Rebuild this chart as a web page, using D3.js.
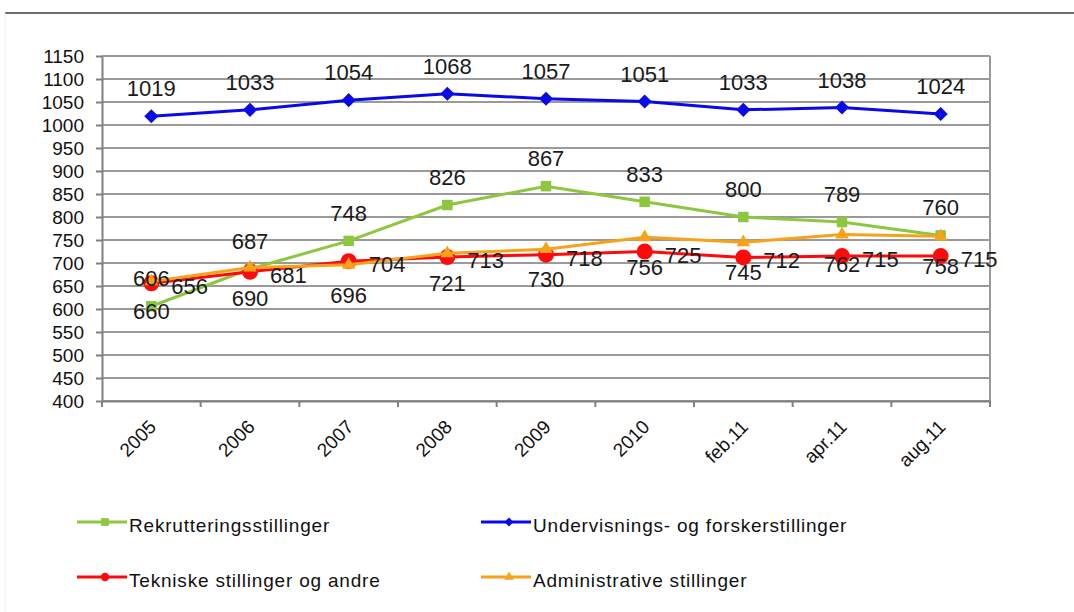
<!DOCTYPE html>
<html>
<head>
<meta charset="utf-8">
<script src="https://cdn.jsdelivr.net/npm/d3@7"></script>
<style>
  body { margin: 0; background: #fff; }
  svg { display: block; font-family: "Liberation Sans", Arial, sans-serif; }
</style>
</head>
<body>
<svg id="chart" width="1074" height="612"></svg>
<script>
// data
const categories = ["2005", "2006", "2007", "2008", "2009", "2010", "feb.11", "apr.11", "aug.11"]
const rekruttering = [606, 687, 748, 826, 867, 833, 800, 789, 760]
const undervisning = [1019, 1033, 1054, 1068, 1057, 1051, 1033, 1038, 1024]
const tekniske = [656, 681, 704, 713, 718, 725, 712, 715, 715]
const administrative = [660, 690, 696, 721, 730, 756, 745, 762, 758]
const yTicks = [400, 450, 500, 550, 600, 650, 700, 750, 800, 850, 900, 950, 1000, 1050, 1100, 1150]

// drawing order = excel series order
const series = [
    { name: "Rekrutteringsstillinger", values: rekruttering, color: "#8dc63f", symbol: "square", label: "above" },
    { name: "Undervisnings- og forskerstillinger", values: undervisning, color: "#0a0ae6", symbol: "diamond", label: "above" },
    { name: "Tekniske stillinger og andre", values: tekniske, color: "#ff0a0a", symbol: "circle", label: "right" },
    { name: "Administrative stillinger", values: administrative, color: "#f7a21b", symbol: "triangle", label: "below" }
]

const svg = d3.select("#chart")
const plotLeft = 102, plotRight = 990, plotTop = 56, plotBottom = 401

const x = d3.scaleBand().domain(categories).range([plotLeft, plotRight])
const y = d3.scaleLinear().domain([400, 1150]).range([plotBottom, plotTop])
const cx = c => x(c) + x.bandwidth() / 2

// outer frame line at the top
svg.append("line")
    .attr("x1", 5).attr("x2", 1074).attr("y1", 13).attr("y2", 13)
    .attr("stroke", "#6e6e6e").attr("stroke-width", 2)
svg.append("line")
    .attr("x1", 5).attr("x2", 5).attr("y1", 13).attr("y2", 612)
    .attr("stroke", "#eeeeee").attr("stroke-width", 1)

// gridlines
svg.append("g")
    .selectAll("line")
    .data(yTicks)
    .enter().append("line")
    .attr("x1", plotLeft).attr("x2", plotRight)
    .attr("y1", d => y(d)).attr("y2", d => y(d))
    .attr("stroke", "#9a9a9a").attr("stroke-width", 2)

// right border of plot area
svg.append("line")
    .attr("x1", plotRight).attr("x2", plotRight).attr("y1", plotTop).attr("y2", plotBottom)
    .attr("stroke", "#9a9a9a").attr("stroke-width", 2)

// y axis
const yAxis = svg.append("g")
    .attr("transform", `translate(${plotLeft},0)`)
    .call(d3.axisLeft(y).tickValues(yTicks).tickFormat(d3.format("d")).tickSize(6).tickSizeOuter(0).tickPadding(12))
yAxis.select(".domain").attr("stroke", "#808080").attr("stroke-width", 2)
yAxis.selectAll(".tick line").attr("stroke", "#808080").attr("stroke-width", 2)
yAxis.selectAll("text")
    .attr("font-size", 19).attr("fill", "#111")
    .attr("font-family", "Liberation Sans, Arial, sans-serif")

// x axis
const xAxis = svg.append("g")
    .attr("transform", `translate(0,${plotBottom})`)
    .call(d3.axisBottom(x).tickSize(0).tickSizeOuter(0).tickFormat(""))
xAxis.select(".domain").attr("stroke", "#808080").attr("stroke-width", 2)

// ticks sit between the categories
const edges = categories.map(c => x(c)).concat([x.range()[1]])
xAxis.selectAll(".edge")
    .data(edges)
    .enter().append("line")
    .attr("class", "edge")
    .attr("x1", d => d).attr("x2", d => d)
    .attr("y1", 0).attr("y2", 6)
    .attr("stroke", "#808080").attr("stroke-width", 2)

svg.append("g")
    .selectAll("text")
    .data(categories)
    .enter().append("text")
    .attr("transform", d => `translate(${cx(d) + 6},${plotBottom + 27}) rotate(-45)`)
    .attr("text-anchor", "end")
    .attr("font-size", 19)
    .attr("fill", "#111")
    .text(d => d)

function symbolPath(type, size) {
    if (type === "square") return d3.symbol(d3.symbolSquare, size)()
    if (type === "diamond") return d3.symbol(d3.symbolSquare, size)()
    if (type === "circle") return d3.symbol(d3.symbolCircle, size)()
    return d3.symbol(d3.symbolTriangle, size)()
}
const markerSize = { square: 110, diamond: 100, circle: 200, triangle: 80 }
const legendSize = { square: 60, diamond: 40, circle: 55, triangle: 40 }

const line = d3.line()
    .x((d, i) => cx(categories[i]))
    .y(d => y(d))

series.forEach(s => {
    const g = svg.append("g")
    g.append("path")
        .datum(s.values)
        .attr("d", line)
        .attr("fill", "none")
        .attr("stroke", s.color)
        .attr("stroke-width", 3)
    g.selectAll("path.mark")
        .data(s.values)
        .enter().append("path")
        .attr("class", "mark")
        .attr("d", symbolPath(s.symbol, markerSize[s.symbol]))
        .attr("transform", (d, i) => `translate(${cx(categories[i])},${y(d)})` + (s.symbol === "diamond" ? " rotate(45)" : ""))
        .attr("fill", s.color)
})

// data labels
series.forEach(s => {
    svg.append("g")
        .selectAll("text")
        .data(s.values)
        .enter().append("text")
        .attr("x", (d, i) => s.label === "right" ? cx(categories[i]) + 20 : cx(categories[i]))
        .attr("y", d => {
            if (s.label === "above") return y(d) - 20
            if (s.label === "below") return y(d) + 38
            return y(d) + 11
        })
        .attr("text-anchor", s.label === "right" ? "start" : "middle")
        .attr("font-size", 22)
        .attr("fill", "#1a1a1a")
        .text(d => d)
})

// legend
const legendPos = [[77, 522], [481, 522], [77, 577], [481, 577]]
series.forEach((s, i) => {
    const [lx, ly] = legendPos[i]
    const g = svg.append("g")
    g.append("line")
        .attr("x1", lx).attr("x2", lx + 50).attr("y1", ly).attr("y2", ly)
        .attr("stroke", s.color).attr("stroke-width", 3)
    g.append("path")
        .attr("d", symbolPath(s.symbol, legendSize[s.symbol]))
        .attr("transform", `translate(${lx + 28},${ly})` + (s.symbol === "diamond" ? " rotate(45)" : ""))
        .attr("fill", s.color)
    g.append("text")
        .attr("x", lx + 52).attr("y", ly + 9.5)
        .attr("font-size", 19)
        .attr("letter-spacing", 0.8)
        .attr("fill", "#111")
        .text(s.name)
})
</script>
</body>
</html>
